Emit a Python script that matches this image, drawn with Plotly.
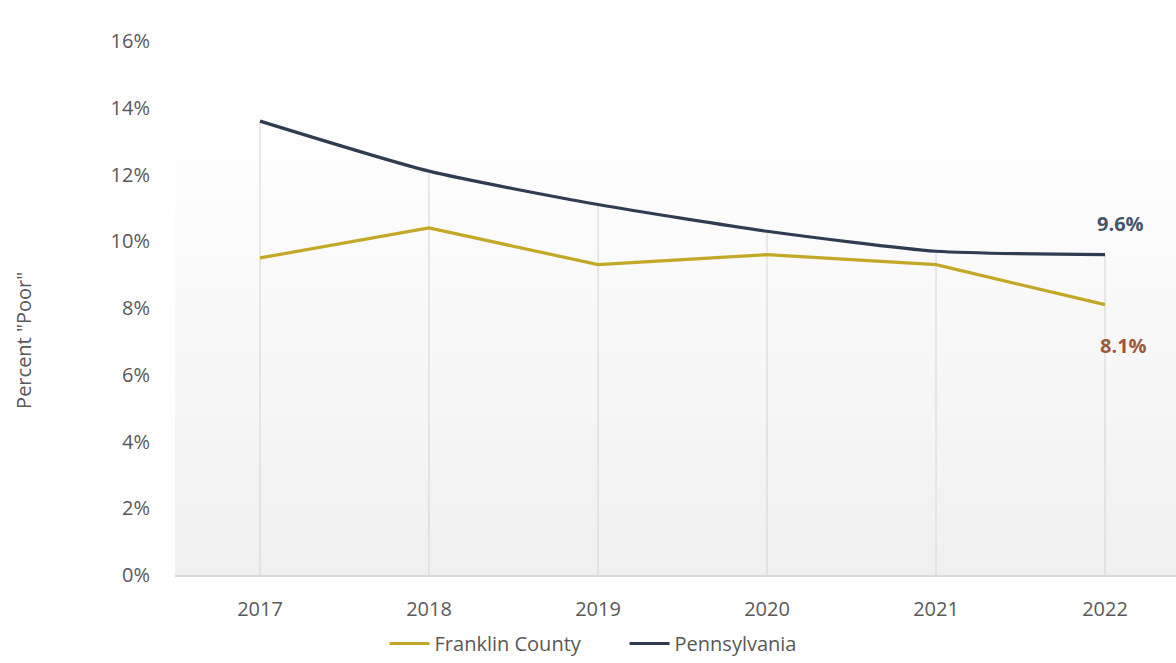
import base64
import plotly.graph_objects as go

# Share of adults reporting "poor" health, by year
years = [2017, 2018, 2019, 2020, 2021, 2022]
franklin = [9.5, 10.4, 9.3, 9.6, 9.3, 8.1]
pennsylvania = [13.6, 12.1, 11.1, 10.3, 9.7, 9.6]
y_ticks = [0, 2, 4, 6, 8, 10, 12, 14, 16]
y_tick_labels = [f"{v}%" for v in y_ticks]

GOLD = "#c3a827"
NAVY = "#2f3c52"
FONT = "Open Sans, Arial, sans-serif"
TICK_FONT = dict(family=FONT, size=20, color="#595959")

fig = go.Figure()

fig.add_trace(go.Scatter(
    x=years, y=franklin, name="Franklin County", mode="lines",
    line=dict(color=GOLD, width=3.2),
))
fig.add_trace(go.Scatter(
    x=years, y=pennsylvania, name="Pennsylvania", mode="lines",
    line=dict(color=NAVY, width=3.2, shape="spline", smoothing=0.6),
))

# Drop lines from the higher series down to the axis
for yr, a, b in zip(years, franklin, pennsylvania):
    fig.add_shape(type="line", x0=yr, x1=yr, y0=0, y1=max(a, b),
                  xref="x", yref="y", layer="below",
                  line=dict(color="#d4d4d4", width=1))

# End-of-series value labels
fig.add_annotation(x=years[-1], y=pennsylvania[-1], text=f"<b>{pennsylvania[-1]}%</b>",
                   showarrow=False, xanchor="center", yanchor="middle", xshift=15, yshift=31,
                   font=dict(family=FONT, size=20, color="#44546a"))
fig.add_annotation(x=years[-1], y=franklin[-1], text=f"<b>{franklin[-1]}%</b>",
                   showarrow=False, xanchor="center", yanchor="middle", xshift=18, yshift=-41,
                   font=dict(family=FONT, size=20, color="#9c5a3c"))

# Axis title
fig.add_annotation(text='Percent "Poor"', xref="paper", yref="paper",
                   x=-0.152, xanchor="center", y=0.44, textangle=-90, showarrow=False,
                   font=dict(family=FONT, size=20, color="#595959"))

# Soft vertical gradient behind the plot area
svg = ('<svg xmlns="http://www.w3.org/2000/svg" width="100" height="100" preserveAspectRatio="none">'
       '<defs><linearGradient id="g" x1="0" y1="0" x2="0" y2="1">'
       '<stop offset="0" stop-color="#ffffff"/><stop offset="0.25" stop-color="#fdfdfd"/>'
       '<stop offset="1" stop-color="#f0f0f0"/></linearGradient></defs>'
       '<rect width="100" height="100" fill="url(#g)"/></svg>')
src = "data:image/svg+xml;base64," + base64.b64encode(svg.encode()).decode()
fig.add_layout_image(source=src, xref="paper", yref="paper", x=0, y=1,
                     sizex=1, sizey=1, sizing="stretch", layer="below",
                     xanchor="left", yanchor="top")

fig.update_layout(
    width=1176, height=663,
    margin=dict(l=175, r=0, t=41, b=88),
    paper_bgcolor="white", plot_bgcolor="rgba(0,0,0,0)",
    showlegend=True,
    legend=dict(orientation="h", xref="container", yref="container",
                x=0.327, xanchor="left", y=-0.014, yanchor="bottom",
                font=dict(family=FONT, size=20, color="#595959"),
                itemwidth=40, entrywidth=185, entrywidthmode="pixels",
                traceorder="normal", bgcolor="rgba(0,0,0,0)"),
    xaxis=dict(range=[2016.497, 2022.42], tickmode="array", tickvals=years,
               ticktext=[str(y) for y in years], showgrid=False, zeroline=False,
               showline=True, linecolor="#d9d9d9", linewidth=1.5,
               ticks="outside", ticklen=15, tickcolor="rgba(0,0,0,0)",
               tickfont=TICK_FONT),
    yaxis=dict(range=[0, 16], tickmode="array", tickvals=y_ticks, ticktext=y_tick_labels,
               showgrid=False, zeroline=False, showline=False,
               ticks="outside", ticklen=20, tickcolor="rgba(0,0,0,0)",
               tickfont=TICK_FONT),
)

fig.write_html("out.html")
